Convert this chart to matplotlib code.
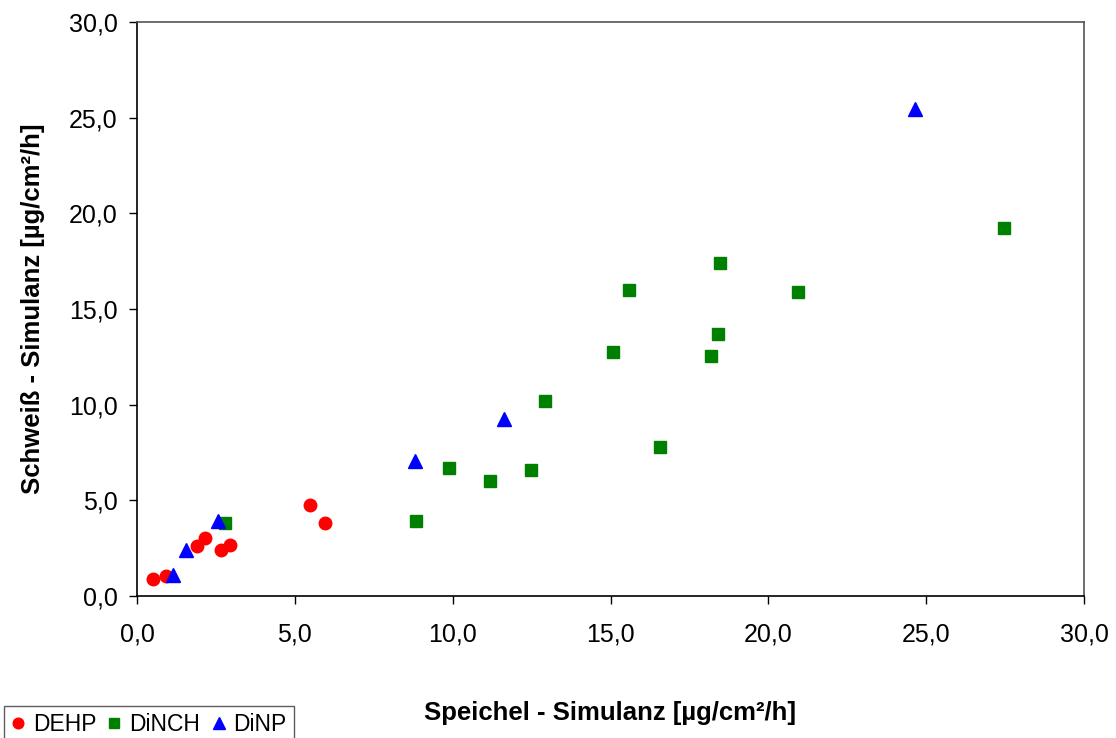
import matplotlib
matplotlib.use("Agg")
import matplotlib.pyplot as plt
from matplotlib.ticker import FuncFormatter, MultipleLocator

plt.rcParams['font.family'] = ['Liberation Sans', 'DejaVu Sans']

dehp_x = [0.51, 0.92, 1.90, 2.15, 2.66, 2.95, 5.48, 5.95]
dehp_y = [0.89, 1.05, 2.61, 3.03, 2.40, 2.67, 4.76, 3.82]

dinch_x = [2.79, 8.84, 9.87, 11.19, 12.47, 12.93, 15.07, 15.58, 16.56, 18.18, 18.40, 18.47, 20.94, 27.45]
dinch_y = [3.83, 3.92, 6.67, 6.01, 6.59, 10.19, 12.77, 16.00, 7.81, 12.56, 13.71, 17.40, 15.91, 19.25]

dinp_x = [1.13, 1.54, 2.58, 8.81, 11.63, 24.65]
dinp_y = [1.10, 2.40, 3.92, 7.07, 9.27, 25.47]

fig = plt.figure(figsize=(11.16, 7.38), dpi=100)
ax = fig.add_axes([137/1116, 1-596/738, (1084-137)/1116, (596-22)/738])

ax.plot(dehp_x, dehp_y, linestyle='none', marker='o', color='#ff0000', markersize=9, label='DEHP')
ax.plot(dinch_x, dinch_y, linestyle='none', marker='s', color='#008000', markersize=8, label='DiNCH')
ax.plot(dinp_x, dinp_y, linestyle='none', marker='^', color='#0000ff', markersize=10, label='DiNP')

ax.set_xlim(0, 30)
ax.set_ylim(0, 30)
ax.xaxis.set_major_locator(MultipleLocator(5))
ax.yaxis.set_major_locator(MultipleLocator(5))
fmt = FuncFormatter(lambda v, p: f"{v:.1f}".replace('.', ','))
ax.xaxis.set_major_formatter(fmt)
ax.yaxis.set_major_formatter(fmt)
ax.tick_params(axis='both', direction='out', length=6, width=1, labelsize=18, colors='black')
ax.tick_params(axis='x', pad=13)
ax.tick_params(axis='y', pad=8)
for s in ax.spines.values():
    s.set_linewidth(1.2)
    s.set_color('black')
ax.spines['top'].set_color('#555555')
ax.spines['right'].set_color('#555555')

ax.set_xlabel('Speichel - Simulanz [µg/cm²/h]', fontsize=18.5, fontweight='bold')
ax.set_ylabel('Schweiß - Simulanz [µg/cm²/h]', fontsize=18.5, fontweight='bold')
ax.xaxis.label.set_va('center')
ax.yaxis.label.set_va('center')
ax.xaxis.set_label_coords(0.5, (596 - 713) / 574)
ax.yaxis.set_label_coords((33 - 137) / 947, 0.5)

leg = fig.legend(loc='lower left', bbox_to_anchor=(4/1116, -0.006), ncol=3, fontsize=16.5,
                 frameon=True, fancybox=False, edgecolor='#333333', handlelength=0.6,
                 handletextpad=0.35, columnspacing=0.5, borderpad=0.3, borderaxespad=0.0,
                 markerscale=0.85)
leg.get_frame().set_linewidth(1.0)

fig.savefig('out.png', dpi=100, facecolor='white')
